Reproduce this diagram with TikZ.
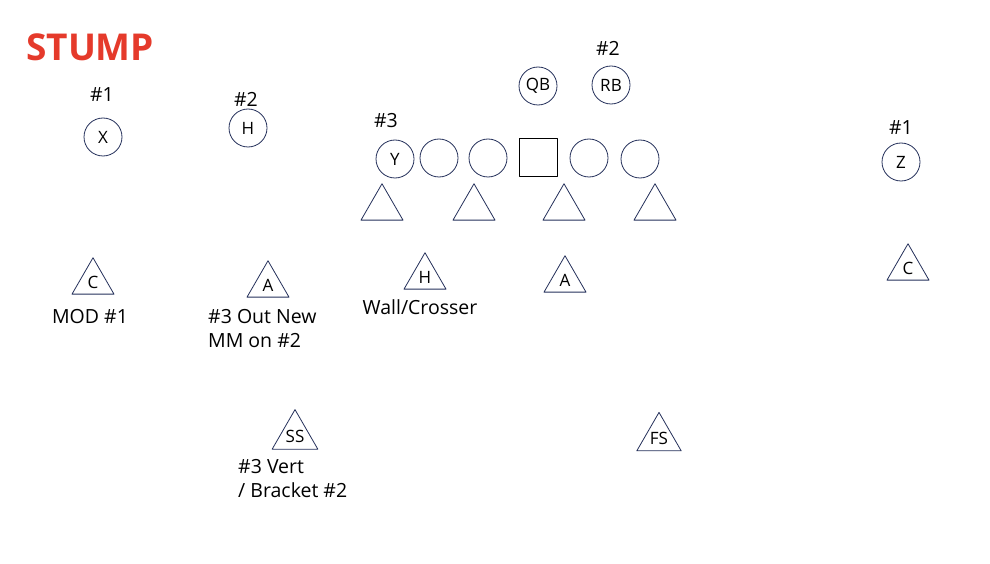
\documentclass[tikz,border=0pt]{standalone}
\usepackage{fontspec}
\setmainfont{Open Sans}
\usepackage{xcolor}
\usepackage{tikz}
\usetikzlibrary{shapes.geometric}
\definecolor{stumpred}{HTML}{E53A2B}
\definecolor{navyline}{HTML}{24305A}

\begin{document}
\begin{tikzpicture}[x=1pt, y=-1pt, line join=round,
  player/.style={circle, draw=navyline, line width=0.8pt, minimum size=38pt, inner sep=0pt, font=\fontsize{17}{19}\selectfont},
  centerbox/.style={rectangle, draw=black, line width=0.8pt, minimum size=38pt, inner sep=0pt},
  defender/.style={regular polygon, regular polygon sides=3, draw=navyline, line width=0.8pt, minimum size=48.5pt, inner sep=0pt, font=\fontsize{17}{19}\selectfont},
  lbl/.style={inner sep=0pt, font=\fontsize{19.5}{24}\selectfont},
  notes/.style={inner sep=0pt, anchor=north west, align=left, font=\fontsize{19.5}{24}\selectfont}]

\useasboundingbox (0,0) rectangle (990,564);

% Titolo
\node[anchor=west, inner sep=0pt, text=stumpred, font=\fontsize{37}{42}\selectfont\bfseries] (title) at (26,47) {STUMP};

% Attacco: ricevitori esterni
\node[player] (X) at (103,137) {X};
\node[player] (H) at (248,128) {H};
\node[player] (Z) at (901,162) {Z};

% Linea
\node[player] (Y) at (395,159) {Y};
\node[player] (LT) at (439,158) {};
\node[player] (LG) at (488,158) {};
\node[centerbox] (CC) at (538,157) {};
\node[player] (RG) at (589,158) {};
\node[player] (RT) at (640,159) {};

% Backfield
\node[player] (QB) at (538,86) {QB};
\node[player] (RB) at (611,85) {RB};

% Numerazione
\node[lbl] (nX) at (102,95) {\#1};
\node[lbl] (nH) at (246,99) {\#2};
\node[lbl] (nY) at (386,121) {\#3};
\node[lbl] (nRB) at (608,48) {\#2};
\node[lbl] (nZ) at (901,128) {\#1};

% Difesa: linea
\node[defender] (DL1) at (382,208) {};
\node[defender] (DL2) at (474,208) {};
\node[defender] (DL3) at (564,208) {};
\node[defender] (DL4) at (655,208) {};

% Difesa: secondo livello
\node[defender] (CL) at (93,282) {C};
\node[defender] (AL) at (268,285) {A};
\node[defender] (HM) at (425,277) {H};
\node[defender] (AR) at (565,280) {A};
\node[defender] (CR) at (908,268) {C};
\node[defender] (SS) at (295,436) {SS};
\node[defender] (FS) at (659,438) {FS};

% Compiti
\node[lbl] (tCL) at (90,317) {MOD \#1};
\node[notes] (tAL) at (208,309) {\#3 Out New\\MM on \#2};
\node[lbl] (tHM) at (420,307) {Wall/Crosser};
\node[notes] (tSS) at (238,459) {\#3 Vert\\/ Bracket \#2};

\end{tikzpicture}
\end{document}
